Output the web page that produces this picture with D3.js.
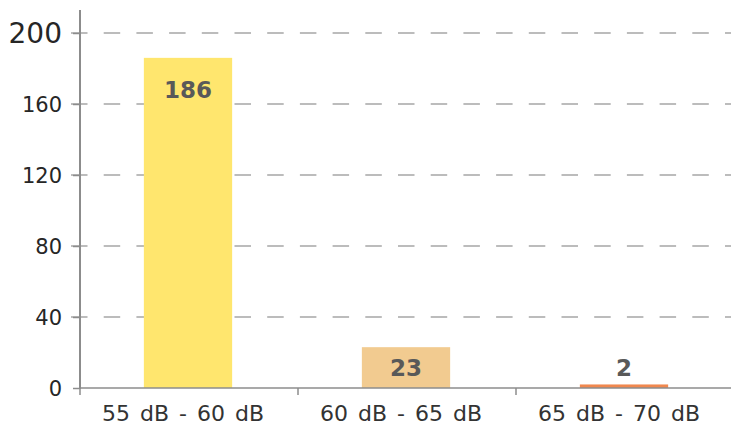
<!DOCTYPE html>
<html><head><meta charset="utf-8">
<script src="https://cdn.jsdelivr.net/npm/d3@7"></script>
<style>
html,body{margin:0;padding:0;background:#fff;}
svg text{font-family:"DejaVu Sans",sans-serif;}
</style></head>
<body>
<svg id="chart" width="731" height="432"></svg>
<script>
const categories = ["55 dB - 60 dB", "60 dB - 65 dB", "65 dB - 70 dB"];
const values = [186, 23, 2];
const colors = ["#FFE66E", "#F2CB90", "#F0884F"];
const yTicks = [0, 40, 80, 120, 160, 200];

const svg = d3.select("#chart");
const x0 = 80, x1 = 734, yBase = 388, yTop = 33;

const x = d3.scaleBand().domain(categories).range([x0, x1]).paddingInner(0).paddingOuter(0);
const y = d3.scaleLinear().domain([0, 200]).range([yBase, yTop]);

// gridlines
svg.append("g").selectAll("line").data(yTicks.filter(d => d > 0)).join("line")
  .attr("x1", x0 - 9).attr("x2", 731)
  .attr("y1", d => y(d)).attr("y2", d => y(d))
  .attr("stroke", "#A6A6A6").attr("stroke-width", 1.3)
  .attr("stroke-dasharray", "16.5,16.2");

// bars
const barW = x.bandwidth() * 0.405;
svg.append("g").selectAll("rect").data(values).join("rect")
  .attr("x", (d, i) => x(categories[i]) + x.bandwidth() / 2 - barW / 2 - 1)
  .attr("width", barW)
  .attr("y", d => y(d))
  .attr("height", d => yBase - y(d))
  .attr("fill", (d, i) => colors[i]);

// y axis
const yAxis = d3.axisLeft(y).tickValues(yTicks).tickSize(7).tickPadding(11).tickFormat(d3.format("d"));
const gy = svg.append("g").attr("transform", `translate(${x0},0)`).call(yAxis);
gy.select(".domain").attr("stroke", "#8C8C8C").attr("stroke-width", 2).attr("d", `M0,${yTop-23}V${yBase+1}`);
gy.selectAll(".tick line").attr("stroke", "#8C8C8C").attr("stroke-width", 1.5);
gy.selectAll(".tick text").attr("fill", "#262626").attr("font-size", 21).attr("dy", "0.36em")
  .filter(d => d === 200).attr("font-size", 28).attr("dy", "0.33em");

// x axis
const xAxis = d3.axisBottom(x).tickSize(0).tickPadding(17);
const gx = svg.append("g").attr("transform", `translate(0,${yBase})`).call(xAxis);
gx.select(".domain").attr("stroke", "#8C8C8C").attr("stroke-width", 1.5).attr("d", `M${x0},0H731`);
gx.selectAll(".tick text").attr("fill", "#333").attr("font-size", 22).attr("dy", "0.71em")
  .attr("word-spacing", 3).attr("dx", -6);
// category separators
svg.append("g").selectAll("line").data(categories).join("line")
  .attr("x1", d => x(d)).attr("x2", d => x(d))
  .attr("y1", yBase).attr("y2", yBase + 7)
  .attr("stroke", "#8C8C8C").attr("stroke-width", 1.5);

// value labels
svg.append("g").selectAll("text").data(values).join("text")
  .attr("x", (d, i) => x(categories[i]) + x.bandwidth() / 2 - 1)
  .attr("y", d => Math.min(y(d) + 32, yBase - 20))
  .attr("dy", "0.36em")
  .attr("text-anchor", "middle")
  .attr("font-size", 23).attr("font-weight", "bold").attr("fill", "#595959")
  .text(d => d);
</script>
</body></html>
